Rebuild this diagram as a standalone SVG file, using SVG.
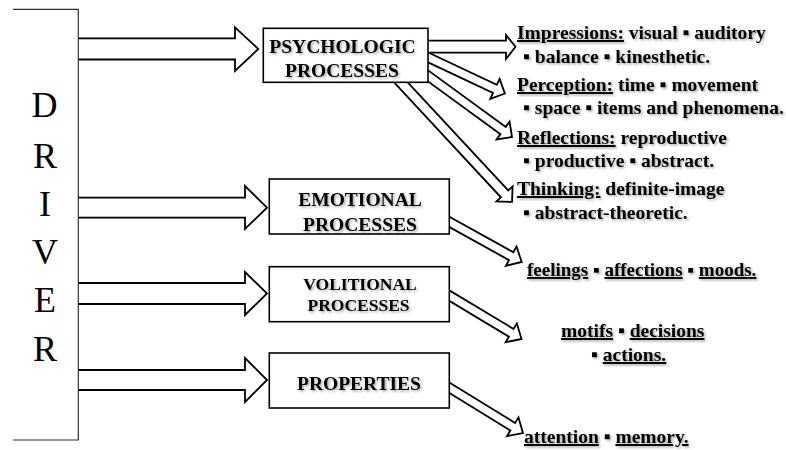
<svg xmlns="http://www.w3.org/2000/svg" width="786" height="450" viewBox="0 0 786 450">
<style>
.frame{fill:none;stroke:#333;stroke-width:1.2}
.box{fill:#fff;stroke:#000;stroke-width:1.6}
.arr{fill:#fff;stroke:#000;stroke-width:1.8;stroke-linejoin:miter}
text{font-family:"Liberation Serif","Times New Roman",serif;fill:#000}
.drv{font-size:36px;text-anchor:middle}
.bt{font-weight:bold;font-size:19.5px;text-anchor:middle}
.rt{font-size:19.5px;font-weight:bold}
.u{text-decoration:underline}
</style>
<defs>
<filter id="sh" x="-10%" y="-30%" width="120%" height="160%">
<feDropShadow dx="1.5" dy="1.5" stdDeviation="0.9" flood-color="#000" flood-opacity="0.35"/>
</filter>
</defs>

<g id="connectors">
<path class="arr" d="M78,38.3 H235 V27.3 L258.3,49 L235,71 V59.5 H78"/>
<path class="arr" d="M78,197.7 H245 V186 L267,207.7 L245,229 V217.7 H78"/>
<path class="arr" d="M78,283 H245 V272 L267,293.5 L245,315 V304 H78"/>
<path class="arr" d="M78,370 H245 V358 L267,380 L245,402 V390 H78"/>
<path class="arr" d="M420,40.7 H506 V35 L515.5,46.8 L506,59 V52.7 H420"/>
<path class="arr" transform="translate(420,53.6) rotate(25.2)" d="M0,-4.5 H82.8 V-11 L93.8,0 L82.8,11 V4.5 H0"/>
<path class="arr" transform="translate(420,70) rotate(36.06)" d="M0,-4.5 H102.8 V-11 L113.8,0 L102.8,11 V4.5 H0"/>
<path class="arr" transform="translate(395,76) rotate(47.1)" d="M0,-5 H160.9 V-11 L171.9,0 L160.9,11 V5 H0"/>
<path class="arr" transform="translate(440,216.7) rotate(29)" d="M0,-4.5 H81.4 V-11 L93.4,0 L81.4,11 V4.5 H0"/>
<path class="arr" transform="translate(440,290) rotate(31)" d="M0,-4.5 H83.1 V-11 L95.1,0 L83.1,11 V4.5 H0"/>
<path class="arr" transform="translate(440,382) rotate(31.6)" d="M0,-4.5 H85.4 V-11 L97.4,0 L85.4,11 V4.5 H0"/>
</g>

<g id="driver">
<path class="frame" d="M13,9.3 H78.3 V440 H13"/>
<text class="drv" x="44.5" y="117">D</text>
<text class="drv" x="45" y="168">R</text>
<text class="drv" x="45" y="216">I</text>
<text class="drv" x="45" y="264">V</text>
<text class="drv" x="45" y="312">E</text>
<text class="drv" x="45" y="361">R</text>
</g>

<g id="psychologic">
<rect class="box" x="263.3" y="28.3" width="164.7" height="54"/>
<g filter="url(#sh)">
<text class="bt" x="342.5" y="52.5">PSYCHOLOGIC</text>
<text class="bt" x="342" y="76.5">PROCESSES</text>
</g>
</g>

<g id="emotional">
<rect class="box" x="269.3" y="179" width="180" height="55"/>
<g filter="url(#sh)">
<text class="bt" x="360" y="206">EMOTIONAL</text>
<text class="bt" x="360" y="230.5">PROCESSES</text>
</g>
</g>

<g id="volitional">
<rect class="box" x="269.3" y="266.7" width="180" height="55"/>
<g filter="url(#sh)">
<text class="bt" x="360" y="289.5" style="font-size:17.5px">VOLITIONAL</text>
<text class="bt" x="358.5" y="311" style="font-size:17.5px">PROCESSES</text>
</g>
</g>

<g id="properties">
<rect class="box" x="269.3" y="353" width="180" height="55"/>
<g filter="url(#sh)">
<text class="bt" x="359" y="389.5">PROPERTIES</text>
</g>
</g>

<g id="impressions" filter="url(#sh)">
<text class="rt" x="517" y="39"><tspan class="u">Impressions:</tspan> visual ▪ auditory</text>
<text class="rt" x="523" y="63">▪ balance ▪ kinesthetic.</text>
</g>

<g id="perception" filter="url(#sh)">
<text class="rt" x="517" y="91"><tspan class="u">Perception:</tspan> time ▪ movement</text>
<text class="rt" x="523" y="114">▪ space ▪ items and phenomena.</text>
</g>

<g id="reflections" filter="url(#sh)">
<text class="rt" x="517" y="144"><tspan class="u">Reflections:</tspan> reproductive</text>
<text class="rt" x="523" y="167">▪ productive ▪ abstract.</text>
</g>

<g id="thinking" filter="url(#sh)">
<text class="rt" x="517" y="195"><tspan class="u">Thinking:</tspan> definite-image</text>
<text class="rt" x="523" y="219">▪ abstract-theoretic.</text>
</g>

<g id="feelings" filter="url(#sh)">
<text class="rt" x="527" y="276" style="font-size:19px"><tspan class="u">feelings</tspan> ▪ <tspan class="u">affections</tspan> ▪ <tspan class="u">moods.</tspan></text>
</g>

<g id="motifs" filter="url(#sh)">
<text class="rt" x="561" y="337"><tspan class="u">motifs</tspan> ▪ <tspan class="u">decisions</tspan></text>
<text class="rt" x="591" y="361">▪ <tspan class="u">actions.</tspan></text>
</g>

<g id="attention" filter="url(#sh)">
<text class="rt" x="524" y="443"><tspan class="u">attention</tspan> ▪ <tspan class="u">memory.</tspan></text>
</g>
</svg>
